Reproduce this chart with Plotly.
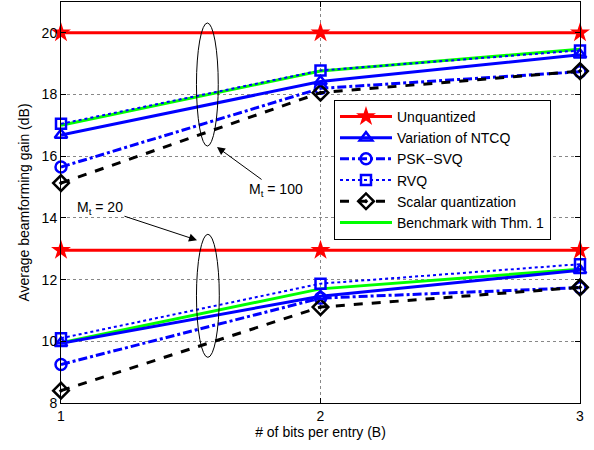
import plotly.graph_objects as go

bits = [1, 2, 3]
# M_t = 100
unq_100 = [20, 20, 20]
ntcq_100 = [16.69, 18.42, 19.29]
psk_100 = [15.65, 18.2, 18.74]
rvq_100 = [17.05, 18.78, 19.43]
scalar_100 = [15.13, 18.06, 18.76]
bench_100 = [17.0, 18.76, 19.47]
# M_t = 20
unq_20 = [12.95, 12.95, 12.95]
ntcq_20 = [9.94, 11.46, 12.3]
psk_20 = [9.25, 11.4, 11.74]
rvq_20 = [10.1, 11.87, 12.5]
scalar_20 = [8.4, 11.11, 11.75]
bench_20 = [9.95, 11.7, 12.34]

names = ["Unquantized", "Variation of NTCQ", "PSK\u2212SVQ", "RVQ",
         "Scalar quantization", "Benchmark with Thm. 1"]

styles = [
    dict(line=dict(color="#ff0000", width=3), marker=dict(symbol="star", size=15, color="#ff0000")),
    dict(line=dict(color="#0000ff", width=3), marker=dict(symbol="triangle-up-open", size=11, color="#0000ff", line=dict(width=2.5))),
    dict(line=dict(color="#0000ff", width=3, dash="dashdot"), marker=dict(symbol="circle-open", size=11, color="#0000ff", line=dict(width=2.5))),
    dict(line=dict(color="#0000ff", width=2, dash="dot"), marker=dict(symbol="square-open", size=10, color="#0000ff", line=dict(width=2.5))),
    dict(line=dict(color="#000000", width=3, dash="dash"), marker=dict(symbol="diamond-open-dot", size=12, color="#000000", line=dict(width=2.5))),
    dict(line=dict(color="#00ff00", width=3), marker=dict(size=1, opacity=0)),
]

fig = go.Figure()
sets_100 = [unq_100, ntcq_100, psk_100, rvq_100, scalar_100, bench_100]
sets_20 = [unq_20, ntcq_20, psk_20, rvq_20, scalar_20, bench_20]
order = [5, 3, 2, 4, 1, 0]  # draw order (legend uses legendrank)
for i in order:
    st = styles[i]
    mode = "lines" if i == 5 else "lines+markers"
    fig.add_trace(go.Scatter(x=bits, y=sets_100[i], name=names[i], mode=mode,
                             line=st["line"], marker=st["marker"], legendrank=i + 1,
                             cliponaxis=False))
    fig.add_trace(go.Scatter(x=bits, y=sets_20[i], name=names[i], mode=mode,
                             line=st["line"], marker=st["marker"], showlegend=False,
                             cliponaxis=False))

# ellipses
fig.add_shape(type="circle", xref="x", yref="y", x0=1.522, x1=1.606, y0=16.33, y1=20.32,
              line=dict(color="black", width=1))
fig.add_shape(type="circle", xref="x", yref="y", x0=1.522, x1=1.610, y0=9.48, y1=13.47,
              line=dict(color="black", width=1))

fig.add_annotation(x=1.601, y=16.30, ax=59, ay=43, xref="x", yref="y",
                   showarrow=True, arrowhead=2, arrowsize=1.6, arrowwidth=1,
                   arrowcolor="black", text="M<sub>t</sub> = 100",
                   font=dict(size=14, color="black"))
fig.add_annotation(x=1.524, y=13.28, ax=-97, ay=-32, xref="x", yref="y",
                   showarrow=True, arrowhead=2, arrowsize=1.6, arrowwidth=1,
                   arrowcolor="black", text="M<sub>t</sub> = 20",
                   font=dict(size=14, color="black"))
# y-axis title
fig.add_annotation(x=-0.073, y=0.5, xref="paper", yref="paper", showarrow=False,
                   text="Average beamforming gain (dB)", textangle=-90,
                   xanchor="center", yanchor="middle", font=dict(size=14, color="black"))

axis_common = dict(showline=True, linecolor="black", linewidth=1, mirror="ticks",
                   ticks="inside", ticklen=5, tickcolor="black",
                   showgrid=True, gridcolor="#888888", griddash="dot", gridwidth=1,
                   zeroline=False, tickfont=dict(size=14, color="black"))
fig.update_xaxes(range=[1, 3], tickvals=[1, 2, 3], title=dict(text="# of bits per entry (B)",
                 font=dict(size=14, color="black"), standoff=4), **axis_common)
fig.update_yaxes(range=[8, 21], tickvals=[8, 10, 12, 14, 16, 18, 20], **axis_common)

fig.update_layout(
    width=594, height=450,
    margin=dict(l=61, r=14, t=2, b=47),
    paper_bgcolor="white", plot_bgcolor="white",
    font=dict(family="Liberation Sans, Arial, sans-serif", color="black"),
    showlegend=True,
    legend=dict(x=0.526, y=0.756, xanchor="left", yanchor="top",
                bgcolor="white", bordercolor="black", borderwidth=1,
                font=dict(size=14, color="black"), itemwidth=52),
)

fig.write_html("out.html")
